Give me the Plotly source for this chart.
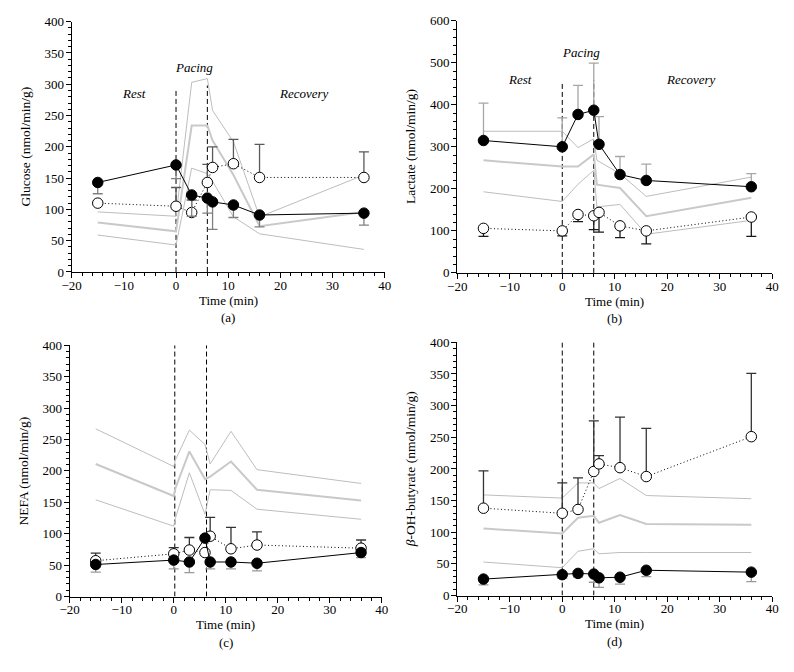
import plotly.graph_objects as go

W, H = 794, 672

# ---------------- data ----------------
time_pts = [-15, 0, 3, 6, 7, 11, 16, 36]
phase_bounds = [0, 6]

# (a) Glucose
glu_filled = [143, 171, 123, 118, 112, 107, 91, 94]
glu_filled_low = [125, 149, 89, 94, 68, 87, 72, 75]
glu_open = [110, 105, 95, 143, 167, 173, 151, 151]
glu_open_high = [110, 135, 115, 172, 200, 212, 204, 192]
glu_grey_x = [-15, 0, 3, 6, 7, 11, 16, 36]
glu_grey_hi = [96, 89, 303, 309, 258, 208, 88, 155]
glu_grey_mid = [79, 65, 234, 234, 210, 155, 73, 96]
glu_grey_lo = [59, 43, 166, 157, 145, 88, 61, 36]

# (b) Lactate
lac_filled = [315, 300, 377, 387, 306, 234, 220, 205]
lac_filled_high = [404, 369, 446, 499, 372, 277, 259, 236]
lac_open = [106, 100, 139, 136, 144, 112, 100, 133]
lac_open_low = [87, 88, 122, 103, 97, 84, 69, 87]
lac_grey_x = [-15, 0, 3, 6, 6.6, 11, 16, 36]
lac_grey_hi = [337, 337, 298, 319, 268, 236, 182, 228]
lac_grey_mid = [268, 253, 253, 282, 210, 202, 135, 179]
lac_grey_lo = [193, 170, 211, 244, 157, 163, 92, 125]

# (c) NEFA
nefa_filled = [51, 58, 55, 93, 55, 55, 53, 70]
nefa_filled_low = [39, 44, 38, 93, 44, 44, 41, 62]
nefa_open = [57, 68, 74, 70, 96, 76, 82, 77]
nefa_open_high = [69, 78, 94, 70, 126, 110, 103, 90]
nefa_grey_x = [-15, 0, 0.3, 3, 6, 7, 11, 16, 36]
nefa_grey_hi = [267, 207, 217, 265, 242, 211, 263, 202, 180]
nefa_grey_mid = [211, 160, 172, 231, 187, 191, 215, 170, 153]
nefa_grey_lo = [154, 112, 124, 197, 131, 170, 169, 139, 123]

# (d) beta-OH-butyrate
bhb_filled = [26, 33, 35, 34, 28, 29, 40, 37]
bhb_filled_low = [17, 27, 29, 21, 13, 18, 30, 22]
bhb_open = [138, 130, 136, 196, 208, 202, 188, 251]
bhb_open_high = [197, 178, 186, 276, 221, 282, 264, 351]
bhb_grey_x = [-15, 0, 3, 6, 7, 11, 16, 36]
bhb_grey_hi = [159, 154, 178, 178, 169, 185, 158, 153]
bhb_grey_mid = [106, 98, 123, 126, 115, 127, 113, 112]
bhb_grey_lo = [53, 44, 70, 74, 66, 68, 68, 68]

FONT = "Liberation Serif"

# panel geometry in pixels: (left, right, top, bottom)
panels = [
    dict(key="a", px=(63, 383, 15, 271), ymax=400, ydt=50, ymin_dt=10,
         ytitle="Glucose (nmol/min/g)", filled=glu_filled, f_err=glu_filled_low, f_dir="down",
         open=glu_open, o_err=glu_open_high, o_dir="up",
         gx=glu_grey_x, g=(glu_grey_hi, glu_grey_mid, glu_grey_lo),
         dash_top=[292, 298], labels=True, lab_y=(285, 327), dash_x=phase_bounds,
         f_col="#808080", o_col="#5a5a5a"),
    dict(key="b", px=(457, 779, 14, 272), ymax=600, ydt=100, ymin_dt=20,
         ytitle="Lactate (nmol/min/g)", filled=lac_filled, f_err=lac_filled_high, f_dir="up",
         open=lac_open, o_err=lac_open_low, o_dir="down",
         gx=lac_grey_x, g=(lac_grey_hi, lac_grey_mid, lac_grey_lo),
         dash_top=[455, 458], labels=True, lab_y=(460, 524), dash_x=phase_bounds,
         f_col="#a6a6a6", o_col="#1a1a1a"),
    dict(key="c", px=(61, 380, 346, 603), ymax=400, ydt=50, ymin_dt=10,
         ytitle="NEFA (nmol/min/g)", filled=nefa_filled, f_err=nefa_filled_low, f_dir="down",
         open=nefa_open, o_err=nefa_open_high, o_dir="up",
         gx=nefa_grey_x, g=(nefa_grey_hi, nefa_grey_mid, nefa_grey_lo),
         dash_top=[400, 400], labels=False, dash_x=[0.2, 6.3],
         f_col="#999999", o_col="#333333"),
    dict(key="d", px=(457, 779, 343, 602), ymax=400, ydt=50, ymin_dt=10,
         ytitle="<i>\u03b2</i>-OH-butyrate (nmol/min/g)", filled=bhb_filled, f_err=bhb_filled_low, f_dir="down",
         open=bhb_open, o_err=bhb_open_high, o_dir="up",
         gx=bhb_grey_x, g=(bhb_grey_hi, bhb_grey_mid, bhb_grey_lo),
         dash_top=[400, 400], labels=False, dash_x=phase_bounds,
         f_col="#999999", o_col="#333333"),
]

fig = go.Figure()
layout = dict(width=W, height=H, margin=dict(l=0, r=0, t=0, b=0), autosize=False,
              paper_bgcolor="white", plot_bgcolor="white", showlegend=False,
              font=dict(family=FONT, size=13, color="black"))
shapes = []
annotations = []


def err(vals, ends, direction):
    d = [abs(e - v) for v, e in zip(vals, ends)]
    z = [0] * len(vals)
    return (d, z) if direction == "up" else (z, d)


for i, p in enumerate(panels, start=1):
    l, r, t, b = p["px"]
    xa = "x" if i == 1 else f"x{i}"
    ya = "y" if i == 1 else f"y{i}"
    xname = "xaxis" if i == 1 else f"xaxis{i}"
    yname = "yaxis" if i == 1 else f"yaxis{i}"
    layout[xname] = dict(domain=[l / W, r / W], anchor=ya, range=[-20, 40],
                         showline=True, linecolor="black", linewidth=1, mirror=False,
                         ticks="outside", ticklen=5, tickwidth=1, tickcolor="black",
                         tickmode="linear", dtick=10, tick0=0, showgrid=False, zeroline=False,
                         ticklabelstandoff=-4,
                         tickfont=dict(family=FONT, size=13),
                         minor=dict(ticks="outside", ticklen=3, tickmode="linear", dtick=2, tick0=0,
                                    tickcolor="black", tickwidth=1, showgrid=False))
    layout[yname] = dict(domain=[1 - b / H, 1 - t / H], anchor=xa, range=[0, p["ymax"]],
                         showline=True, linecolor="black", linewidth=1, mirror=False,
                         ticks="outside", ticklen=5, tickwidth=1, tickcolor="black",
                         tickmode="linear", dtick=p["ydt"], tick0=0, showgrid=False, zeroline=False,
                         ticklabelstandoff=-1,
                         tickfont=dict(family=FONT, size=13),
                         minor=dict(ticks="outside", ticklen=3, tickmode="linear", dtick=p["ymin_dt"],
                                    tick0=0, tickcolor="black", tickwidth=1, showgrid=False))

    # grey reference lines
    for gy, wdt, col in zip(p["g"], (1, 2, 1), ("#bdbdbd", "#c9c9c9", "#bdbdbd")):
        fig.add_trace(go.Scatter(x=p["gx"], y=gy, mode="lines", xaxis=xa, yaxis=ya,
                                 line=dict(color=col, width=wdt), hoverinfo="skip"))

    # dashed phase boundaries
    for dx, top in zip(p["dash_x"], p["dash_top"]):
        shapes.append(dict(type="line", xref=xa, yref=ya, x0=dx, x1=dx, y0=0, y1=top,
                           line=dict(color="black", width=1, dash="5px,3px"), layer="below"))

    fp, fm = err(p["filled"], p["f_err"], p["f_dir"])
    op, om = err(p["open"], p["o_err"], p["o_dir"])

    fig.add_trace(go.Scatter(x=time_pts, y=p["open"], mode="lines+markers", xaxis=xa, yaxis=ya,
                             line=dict(color="black", width=1, dash="1px,2.5px"),
                             marker=dict(symbol="circle", size=10.5, color="white",
                                         line=dict(color="black", width=1)),
                             error_y=dict(type="data", symmetric=False, array=op, arrayminus=om,
                                          color=p["o_col"], thickness=1.3, width=5)))
    fig.add_trace(go.Scatter(x=time_pts, y=p["filled"], mode="lines+markers", xaxis=xa, yaxis=ya,
                             line=dict(color="black", width=1),
                             marker=dict(symbol="circle", size=10.5, color="black",
                                         line=dict(color="black", width=1)),
                             error_y=dict(type="data", symmetric=False, array=fp, arrayminus=fm,
                                          color=p["f_col"], thickness=1.3, width=5)))

    # phase labels
    if p["labels"]:
        ly_rest, ly_pace = p["lab_y"]
        for tx, xx, yy in (("Rest", -8, ly_rest), ("Pacing", 3.5, ly_pace), ("Recovery", 24.5, ly_rest)):
            annotations.append(dict(x=xx, y=yy, xref=xa, yref=ya, text=f"<i>{tx}</i>", showarrow=False,
                                    font=dict(family=FONT, size=13), xanchor="center", yanchor="middle"))

    # axis titles and panel labels
    cx = (l + r) / 2
    annotations.append(dict(x=cx / W, y=1 - (b + 29) / H, xref="paper", yref="paper", text="Time (min)",
                            showarrow=False, font=dict(family=FONT, size=13), xanchor="center",
                            yanchor="middle"))
    annotations.append(dict(x=cx / W, y=1 - (b + 47) / H, xref="paper", yref="paper", text=f"({p['key']})",
                            showarrow=False, font=dict(family=FONT, size=13), xanchor="center",
                            yanchor="middle"))
    annotations.append(dict(x=(l - 47) / W, y=1 - ((t + b) / 2) / H, xref="paper", yref="paper",
                            text=p["ytitle"], textangle=-90, showarrow=False,
                            font=dict(family=FONT, size=13.5), xanchor="center", yanchor="middle"))

layout["shapes"] = shapes
layout["annotations"] = annotations
fig.update_layout(**layout)
fig.write_html("out.html", config={"displayModeBar": False},
               post_script="document.body.style.margin='0px';document.body.style.overflow='hidden';")
